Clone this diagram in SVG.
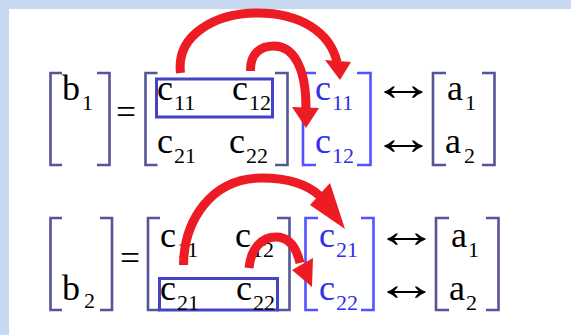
<svg xmlns="http://www.w3.org/2000/svg" width="571" height="335" viewBox="0 0 571 335">
<style>
.t{font-family:"Liberation Serif","Times New Roman",serif;font-size:36px;fill:#000}
.s{font-family:"Liberation Serif","Times New Roman",serif;font-size:22px;fill:#000}
.blue{fill:#3030f0}
.br{fill:none;stroke:#55559a;stroke-width:2.6}
.bb{fill:none;stroke:#5252ff;stroke-width:2.6}
.box{fill:none;stroke:#4343c4;stroke-width:3}
.arr{font-family:"Liberation Serif","DejaVu Serif",serif;font-size:48px;fill:#000;text-anchor:middle}
.red{fill:none;stroke:#ed1c24;stroke-width:9}
.head{fill:#ed1c24}
</style>
<rect x="0" y="0" width="571" height="335" fill="#c6d9f0"/>
<rect x="9" y="9" width="562" height="326" fill="#ffffff"/>

<!-- Row 1 -->
<g id="r1-b">
<path class="br" d="M62,73H50.5V165H62"/>
<path class="br" d="M97,73H109.5V165H97"/>
<text class="t" x="62" y="100">b</text><text class="s" x="82" y="110">1</text>
</g>
<g id="r1-eq"><text class="t" x="116" y="124" textLength="20" lengthAdjust="spacingAndGlyphs">=</text></g>
<g id="r1-C">
<path class="br" d="M157.5,73H145.5V165H157.5"/>
<path class="br" d="M275,73H287.5V165H275"/>
<rect class="box" x="156.5" y="79" width="116" height="38"/>
<text class="t" x="157" y="100">c</text><text class="s" x="174" y="110">11</text>
<text class="t" x="232" y="100">c</text><text class="s" x="249" y="110">12</text>
<text class="t" x="157" y="153">c</text><text class="s" x="174" y="163">21</text>
<text class="t" x="229" y="153">c</text><text class="s" x="246" y="163">22</text>
</g>
<g id="r1-col">
<path class="bb" d="M316,73H303V165H316"/>
<path class="bb" d="M357,73H370.5V165H357"/>
<text class="t blue" x="315" y="100">c</text><text class="s blue" x="332" y="110">11</text>
<text class="t blue" x="315" y="153">c</text><text class="s blue" x="332" y="163">12</text>
</g>
<g id="r1-iff">
<text class="arr" transform="translate(403.5,100) scale(1.35,1)" x="0" y="0">↔</text>
<text class="arr" transform="translate(403.5,154) scale(1.35,1)" x="0" y="0">↔</text>
</g>
<g id="r1-a">
<path class="br" d="M446,73H433V165H446"/>
<path class="br" d="M482,73H494.5V165H482"/>
<text class="t" x="447" y="100">a</text><text class="s" x="465" y="110">1</text>
<text class="t" x="445" y="153">a</text><text class="s" x="464" y="163">2</text>
</g>

<!-- Row 2 -->
<g id="r2-b">
<path class="br" d="M62,218H50.5V310H62"/>
<path class="br" d="M100,218H112V310H100"/>
<text class="t" x="62" y="300">b</text><text class="s" x="84" y="308">2</text>
</g>
<g id="r2-eq"><text class="t" x="120" y="270" textLength="20" lengthAdjust="spacingAndGlyphs">=</text></g>
<g id="r2-C">
<path class="br" d="M160,218H148V310H160"/>
<path class="br" d="M277,218H289.5V310H277"/>
<rect class="box" x="159.5" y="278.5" width="118" height="31.5"/>
<text class="t" x="160" y="247">c</text><text class="s" x="177" y="257">11</text>
<text class="t" x="235" y="247">c</text><text class="s" x="252" y="257">12</text>
<text class="t" x="160" y="300">c</text><text class="s" x="177" y="310">21</text>
<text class="t" x="236" y="300">c</text><text class="s" x="253" y="310">22</text>
</g>
<g id="r2-col">
<path class="bb" d="M318,218H305.5V310H318"/>
<path class="bb" d="M361,218H373.5V310H361"/>
<text class="t blue" x="319" y="247">c</text><text class="s blue" x="336" y="257">21</text>
<text class="t blue" x="319" y="300">c</text><text class="s blue" x="336" y="310">22</text>
</g>
<g id="r2-iff">
<text class="arr" transform="translate(406.5,247) scale(1.35,1)" x="0" y="0">↔</text>
<text class="arr" transform="translate(406.5,300) scale(1.35,1)" x="0" y="0">↔</text>
</g>
<g id="r2-a">
<path class="br" d="M449,218H436V310H449"/>
<path class="br" d="M486,218H498.5V310H486"/>
<text class="t" x="451" y="247">a</text><text class="s" x="468" y="257">1</text>
<text class="t" x="449" y="300">a</text><text class="s" x="466" y="310">2</text>
</g>

<g id="connectors">
<path class="red" d="M180.5,73 C176,35 215,13 258,13 C300,13 330,32 337,62"/>
<polygon class="head" points="325,60 351,62 340,80"/>
<path class="red" d="M250.5,71 C250,52 262,46 274,46 C292,46 306,65 306,108"/>
<polygon class="head" points="292,107 319,108 306,128"/>
<path class="red" d="M183.5,265 C184,222 210,178 262,178 C290,178 308,185 320,196"/>
<polygon class="head" points="310,205 330,183 345,229"/>
<path class="red" d="M249,268 C251,248 262,237 276,237 C288,237 296,246 300,263"/>
<polygon class="head" points="292,270 313,258 312,287"/>
</g>
</svg>
